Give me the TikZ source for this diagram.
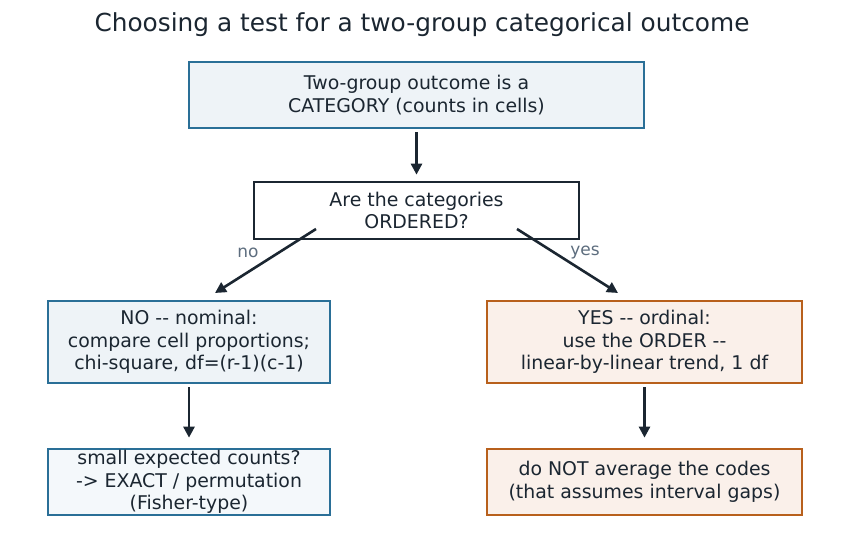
\documentclass[tikz,border=0pt]{standalone}
\usepackage{fontspec}
\setmainfont{DejaVu Sans}[Ligatures=TeXOff]
\usetikzlibrary{arrows.meta}
\definecolor{ink}{HTML}{1B2631}
\definecolor{blueB}{HTML}{2A6F97}
\definecolor{blueF}{HTML}{EEF3F7}
\definecolor{blueF2}{HTML}{F4F8FB}
\definecolor{orgB}{HTML}{B8601C}
\definecolor{orgF}{HTML}{FAF0EA}
\definecolor{lbl}{HTML}{5D6D7E}
\tikzset{
  box/.style={draw, line width=2.7pt, align=center, text=ink, font=\fontsize{18.9}{22.5}\selectfont, inner sep=0pt},
  bluebox/.style={box, draw=blueB, fill=blueF},
  orgbox/.style={box, draw=orgB, fill=orgF},
  qbox/.style={box, draw=ink, fill=white},
  arr/.style={draw=ink, line width=2.6pt, -{Triangle[length=11pt,width=11pt]}},
  lab/.style={text=lbl, font=\fontsize{17}{20}\selectfont},
}
\begin{document}
\begin{tikzpicture}[x=1pt,y=-1pt]
\useasboundingbox (0,0) rectangle (843,546);
\node[text=ink, font=\fontsize{24.8}{28}\selectfont] (title) at (422,25) {Choosing a test for a two-group categorical outcome};
\node[bluebox, minimum width=455pt, minimum height=66pt] (top) at (416.5,95) {Two-group outcome is a\\CATEGORY (counts in cells)};
\node[qbox, minimum width=325pt, minimum height=57pt] (q) at (416.5,210.5) {Are the categories\\ORDERED?};
\node[bluebox, minimum width=282pt, minimum height=82pt] (no) at (189,342) {NO -- nominal:\\compare cell proportions;\\chi-square, df=(r-1)(c-1)};
\node[orgbox, minimum width=315pt, minimum height=82pt] (yes) at (644.5,342) {YES -- ordinal:\\use the ORDER --\\linear-by-linear trend, 1 df};
\node[box, draw=blueB, fill=blueF2, minimum width=282pt, minimum height=66pt] (exact) at (189,482) {small expected counts?\\-> EXACT / permutation\\(Fisher-type)};
\node[orgbox, minimum width=315pt, minimum height=66pt] (avg) at (644.5,482) {do NOT average the codes\\(that assumes interval gaps)};
\coordinate (qL) at (316,229);
\coordinate (qR) at (517,229);
\coordinate (noT) at (215,293);
\coordinate (yesT) at (618,293);
\draw[arr] ([yshift=-3pt]top.south) -- ([yshift=6pt]q.north);
\draw[arr] (qL) -- (noT);
\draw[arr] (qR) -- (yesT);
\draw[arr] ([yshift=-3pt]no.south) -- ([yshift=10pt]exact.north);
\draw[arr] ([yshift=-3pt]yes.south) -- ([yshift=10pt]avg.north);
\node[lab] (nolab) at (248,253) {no};
\node[lab] (yeslab) at (585,253) {yes};
\end{tikzpicture}
\end{document}
